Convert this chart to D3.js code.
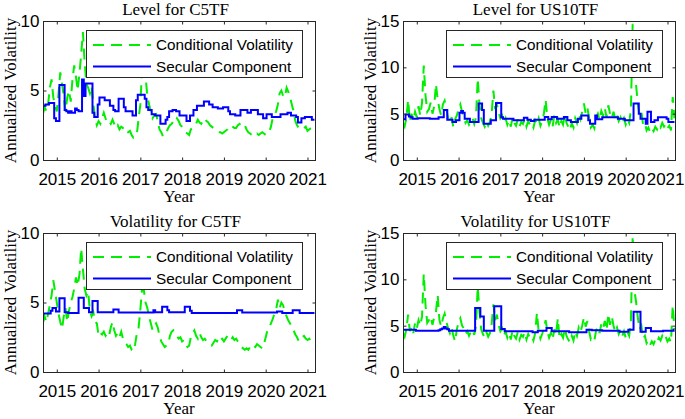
<!DOCTYPE html>
<html><head><meta charset="utf-8">
<script src="https://cdn.jsdelivr.net/npm/d3@7"></script>
<style>body{margin:0;background:#fff} svg{display:block}</style>
</head><body><svg id="c" width="685" height="419"></svg>
<script>
// ---------- data ----------
const yearTicks = [2015, 2016, 2017, 2018, 2019, 2020, 2021];
const yTicksC5 = [0, 5, 10];
const yTicksUS10 = [0, 5, 10, 15];
const startYear = 2014.667;   // first observation (Sep 2014), half-monthly grid
const stepYear = 1 / 24;

const levelC5Cond = [3.3,3.8,3.5,4.0,5.2,5.8,4.5,3.9,3.5,4.8, 6.3,5.5,4.6,3.5,4.5,5.0,4.2,5.8,6.8,6.0,
 5.0,6.2,7.6,9.2,7.0,5.5,5.2,4.8,5.3,4.0, 3.0,2.5,2.8,2.6,3.0,3.4,3.0,2.7,2.8,2.6,
 2.9,2.6,2.3,2.5,2.2,2.4,2.3,2.1,2.2,2.0, 2.1,1.8,1.6,1.7,1.9,3.0,4.0,6.6,7.0,6.0,
 4.6,4.0,3.5,3.0,3.2,3.3,2.8,2.2,2.0,1.7, 1.9,2.0,2.3,2.5,2.6,2.8,2.7,3.0,2.8,2.5,
 2.4,2.2,2.0,1.9,1.8,2.2,2.3,2.5,2.6,2.9, 2.7,2.6,2.8,3.0,2.8,2.7,2.5,2.4,2.3,2.2,
 2.1,2.0,2.0,1.9,2.0,2.1,2.2,2.4,2.5,2.4, 2.3,2.3,2.5,2.6,2.4,2.5,2.5,2.2,2.0,1.9,
 1.8,1.7,1.8,1.9,1.8,1.9,2.0,1.9,1.8,1.9, 2.0,2.4,3.0,3.2,3.5,4.0,4.8,5.0,4.6,4.5,
 5.2,4.9,4.5,4.0,3.5,2.8,2.5,2.3,2.2,2.2, 2.3,2.4,2.1,2.2,2.3,2.4,2.5];

const levelC5Sec = [3.9,3.9,4.0, 4.0,4.1,4.1,4.1, 3.0,2.8,2.8, 5.4,5.4,5.4, 3.6,3.5,
 3.4,3.5,3.4,3.4,3.7,3.6,3.5, 3.5, 5.8, 4.6, 5.5,5.5,5.5,5.5, 3.4, 3.1,3.1, 4.0,
 4.5,4.5,4.5, 4.3,4.3,4.3, 3.9,3.9, 3.6,3.5,3.5, 4.4,4.4,4.4, 3.8, 3.5,3.5,3.5,3.5,
 3.2,3.2, 4.3, 4.7,4.7,4.7,4.7, 4.4, 3.8, 3.6,3.6, 3.3,3.3,3.2,3.2,3.2, 2.6,2.6,2.6,
 2.9,3.1, 3.5,3.5,3.6,3.6,3.5,3.5, 3.2,3.2,3.2,3.2, 2.8,2.8, 3.2,3.2, 3.6,3.6,
 3.9,3.9,3.9,3.9, 4.2,4.2,4.2, 4.0,4.0, 3.8,3.8,3.8, 3.7,3.7,3.7, 3.8,3.8,3.8, 3.5,
 3.3,3.3,3.3,3.2,3.2,3.2, 3.6,3.6,3.6,3.6, 3.4,3.4, 3.6,3.6,3.6,3.6, 3.3,3.3,3.3,
 3.0,3.0, 3.3,3.3,3.3, 3.1,3.1,3.1,3.1,3.1, 3.3,3.3,3.3,3.3, 3.4,3.4, 3.2,3.2,3.2,3.1,
 2.7,2.7, 3.0,3.0, 3.1,3.1,3.1,3.1, 2.9,2.9];

const levelUS10Cond = [4.0,3.6,4.5,6.5,4.2,5.0,4.3,5.2,4.6,5.8, 4.8,6.2,10.2,7.0,5.2,5.5,6.2,5.0,5.8,8.2,
 6.5,5.5,4.8,6.0,6.4,5.5,4.5,4.0,4.6,3.5, 4.4,4.8,5.5,6.0,5.2,4.6,4.0,4.3,3.8,4.2,
 4.5,3.9,4.6,8.8,6.0,4.5,4.0,3.6,4.2,3.7, 4.1,5.0,7.5,5.5,6.0,5.2,4.5,4.8,4.0,4.5,
 3.8,4.3,3.6,4.6,4.0,3.7,4.4,3.6,4.1,3.9, 4.4,3.6,4.2,3.8,4.0,3.5,4.3,3.9,4.5,3.7,
 4.2,5.0,6.5,4.5,3.8,4.3,3.6,4.8,4.0,4.4, 3.5,4.2,3.8,4.9,4.0,3.6,3.2,4.0,3.5,4.5,
 4.0,5.0,4.4,5.2,6.1,5.0,5.6,4.5,3.5,3.8, 3.4,4.6,5.0,4.3,5.3,4.8,5.6,4.6,5.9,5.0,
 4.5,5.2,4.4,4.9,4.2,4.6,4.0,4.5,3.8,4.4, 4.0,5.5,14.7,9.0,8.0,6.0,4.8,5.2,3.8,4.0,
 3.2,3.5,3.0,3.4,3.1,3.6,3.3,3.8,3.5,4.0, 3.6,3.9,3.4,3.7,3.2,6.8,4.5];

const levelUS10Sec = [4.4,4.4, 4.9,4.9, 4.7,4.6, 4.45,4.45,4.45, 4.5,4.5,4.5,4.5,4.5,4.5,4.5,
 4.45,4.45,4.45,4.45,4.45, 4.6,4.6,4.6, 5.4,5.4, 4.35,4.35,4.35, 4.1,4.1, 4.3,4.3, 5.1,5.3,5.1,
 4.45,4.45,4.45, 4.1,4.1,4.1,4.1,4.1, 6.1,6.1, 5.4, 3.9,3.9,3.9,3.9, 4.3,4.3,4.3,
 6.15,6.15,6.15, 4.6, 4.45,4.45,4.45,4.45,4.45,4.45, 4.3,4.3,4.3,4.3,4.3,4.3, 4.55,4.55,
 4.35,4.35, 4.2,4.2, 4.35,4.35,4.35,4.35,4.35,4.35, 4.65,4.65, 4.4,4.4, 4.65,4.65,4.65,
 4.45,4.45,4.45,4.45, 4.65,4.65, 4.3,4.3, 4.1,4.1,4.1,4.1, 4.45,4.45, 4.8,4.8,4.8,4.8, 4.3,
 3.9,3.9,3.9, 4.8, 4.4,4.4,4.4, 4.6,4.6,4.6,4.6,4.6,4.6,4.6,4.6,4.6, 4.45,4.45,4.45,4.45,
 4.3,4.3,4.3,4.3,4.3, 6.1,6.1,6.1, 5.0, 4.45,4.45,4.45, 3.9, 5.2,5.2, 4.1,4.1, 4.3,4.3,
 4.6,4.6,4.6,4.6,4.6, 4.45, 4.1,4.1,4.1,4.1];

const volC5Cond = [3.5,4.0,3.6,4.2,4.8,5.5,6.6,5.8,5.0,4.2, 3.6,3.1,4.0,4.6,3.6,4.4,5.0,5.4,6.0,6.8,
 6.2,7.0,8.9,7.4,6.0,5.5,5.8,4.4,4.0,4.3, 3.6,3.5,2.6,2.8,2.7,2.9,2.6,2.8,2.6,3.2,
 3.6,3.0,2.6,2.8,2.5,2.9,2.4,2.1,2.0,1.8, 1.9,1.6,1.5,2.0,2.8,3.2,4.5,6.0,5.9,5.0,
 4.6,4.0,3.5,3.0,3.3,3.5,3.2,2.6,2.2,2.0, 1.8,1.9,2.0,2.6,2.9,3.0,2.8,2.6,2.4,2.5,
 2.2,2.3,2.0,1.8,1.9,2.5,2.8,3.0,2.6,2.4, 2.8,2.5,2.3,2.4,2.2,2.1,2.0,1.9,2.1,2.3,
 2.2,2.5,2.3,2.4,2.2,2.4,2.6,2.4,2.3,2.5, 2.3,2.4,2.2,2.0,1.8,1.7,1.6,1.7,1.6,1.8,
 1.7,1.9,1.8,2.0,1.9,1.8,1.7,2.0,2.5,3.0, 3.2,3.5,3.8,4.2,4.5,5.2,4.6,5.0,4.8,4.3,
 4.0,3.7,3.5,3.2,3.0,2.7,2.5,2.2,2.3,2.5, 2.6,2.4,2.3,2.4,2.2,2.4,2.3];

const volC5Sec = [4.2,4.2,4.2,4.2,4.2, 4.4,4.6,4.6, 4.35,4.35, 5.3,5.3,5.3, 4.3,4.3,
 4.25,4.25,4.25,4.25,4.25,4.25, 5.35,5.35,5.35, 4.6,4.6,4.6, 4.3,4.3, 5.1,5.1,5.1,
 4.3,4.3,4.3,4.3,4.3,4.3,4.3,4.3,4.3, 4.5,4.5,4.5,
 4.28,4.28,4.28,4.28,4.28,4.28,4.28,4.28,4.28,4.28,4.28,4.28,4.28,4.28,4.28,4.28,4.28,4.28,4.28,4.28,
 4.45, 4.3,4.3,4.3,4.3, 4.7,4.7,4.7, 4.45, 4.3,4.3,4.3,4.3,4.3,4.3,4.3,4.3,4.3,
 4.7,4.7,4.7, 4.4,
 4.25,4.25,4.25,4.25,4.25,4.25,4.25,4.25,4.25,4.25,4.25,4.25,4.25,4.25,4.25,4.25,4.25,4.25,4.25,4.25,4.25,4.25,4.25,4.25,4.25,4.25,
 4.45,4.45,4.45,
 4.28,4.28,4.28,4.28,4.28,4.28,4.28,4.28,4.28,4.28,4.28,4.28,4.28,4.28,4.28,4.28,4.28,4.28,4.28,4.28,
 4.35,4.35,4.35, 4.25,4.25,4.25,4.25,4.25,4.25, 4.45,4.45,4.45,4.45,
 4.25,4.25,4.25,4.25,4.25,4.25,4.25,4.25,4.25];

const volUS10Cond = [4.2,3.8,4.6,6.2,4.4,4.9,4.2,5.3,4.7,5.6, 5.0,6.0,10.6,7.2,5.3,5.6,6.0,5.1,5.9,6.5,
 8.3,5.6,4.9,5.8,6.3,5.4,4.7,4.2,4.8,3.9, 3.3,4.6,5.4,5.8,5.0,4.7,4.1,4.4,3.9,4.3,
 4.6,4.0,5.0,9.2,6.5,4.6,4.1,3.7,4.3,3.8, 4.2,5.2,7.3,5.6,6.2,5.1,4.4,4.7,3.9,4.4,
 3.7,4.2,3.5,4.5,3.9,3.6,4.3,3.5,4.0,3.8, 4.3,3.5,4.1,3.7,3.9,3.4,4.2,6.4,4.4,3.6,
 4.1,4.7,5.6,4.4,3.7,4.2,3.5,4.6,4.0,5.8, 3.6,4.1,3.7,4.7,3.9,3.5,3.2,3.9,3.4,4.4,
 3.9,4.8,4.3,5.0,5.9,4.9,5.5,4.4,3.5,3.7, 3.4,4.5,4.9,4.2,5.2,4.7,5.5,4.5,6.3,5.1,
 6.0,5.0,4.3,4.8,4.1,4.5,3.9,4.4,3.7,4.3, 3.9,5.6,14.7,8.8,7.5,5.8,4.6,5.0,3.6,3.9,
 3.1,3.4,2.9,3.3,3.0,3.5,3.2,3.7,3.4,3.9, 3.5,3.8,3.3,3.6,3.2,7.2,4.6];

const volUS10Sec = [4.55,4.55,4.55,4.55,4.55,4.55,4.55,4.55,
 4.45,4.45,4.45,4.45,4.45,4.45,4.45,4.45,4.45,4.45,4.45,4.45,4.45, 4.5,
 4.6,4.7,4.85,4.7,4.6,
 4.45,4.45,4.45,4.45,4.45,4.45,4.45,4.45,4.45,4.45,4.45,4.45,4.45,4.45,4.45,
 6.9,6.9,6.9, 6.0,6.0, 4.45,4.45,4.45,4.45,4.45,4.45, 7.1,7.1,7.1,7.1, 4.65,4.65,
 4.4,4.4,4.4,4.4,4.4,4.4,4.4,4.4,4.4,4.4,4.4,4.4,4.4,4.4,4.4,4.4,
 4.3,4.3,4.3, 4.45,4.45,4.45,4.45,4.45, 4.75,4.75,4.75,
 4.4,4.4,4.4,4.4,4.4,4.4,4.4,4.4,4.4,4.4, 4.3,4.3,4.3,4.3,4.3,4.3,4.3,4.3,4.3,4.3,
 4.55,4.55,4.55, 4.5,4.5,4.5,4.5,4.5,4.5, 4.45,4.45,4.45,4.45,4.45,4.45,4.45,4.45,4.45,4.45,
 4.35,4.35,4.35,4.35,4.35, 4.55,4.55,4.55, 6.5,6.5,6.5,6.5, 4.35,4.35,4.35, 4.75,4.75,4.75,
 4.4,4.4,4.4,4.4,4.4,4.4,4.4, 4.45,4.45,4.45,4.45,4.45,4.45, 4.55];

const legendLabels = ["Conditional Volatility", "Secular Component"];

// ---------- layout ----------
const panels = [
  {title: "Level for C5TF",      cond: levelC5Cond,   sec: levelC5Sec,   yTicks: yTicksC5,   x0: 43,  y0: 21},
  {title: "Level for US10TF",    cond: levelUS10Cond, sec: levelUS10Sec, yTicks: yTicksUS10, x0: 403, y0: 21},
  {title: "Volatility for C5TF", cond: volC5Cond,     sec: volC5Sec,     yTicks: yTicksC5,   x0: 43,  y0: 233},
  {title: "Volatility for US10TF", cond: volUS10Cond, sec: volUS10Sec,   yTicks: yTicksUS10, x0: 403, y0: 233}
];
const W = 272, H = 139;
const sansFont = "Arial, 'Liberation Sans', sans-serif";
const serifFont = "'Times New Roman', 'Liberation Serif', serif";
const axisColor = "#262626";
const green = "#00ee00", blue = "#0000ff";

const svg = d3.select("#c");
svg.append("rect").attr("width", 685).attr("height", 419).attr("fill", "#fff");

panels.forEach((p, k) => {
  const g = svg.append("g");
  const x = d3.scaleLinear().domain([2014.67, 2021.18]).range([p.x0, p.x0 + W]);
  const yMax = d3.max(p.yTicks);
  const y = d3.scaleLinear().domain([0, yMax]).range([p.y0 + H, p.y0]);
  const date = i => startYear + i * stepYear;

  const clipId = "clip" + k;
  svg.append("clipPath").attr("id", clipId).append("rect")
    .attr("x", p.x0).attr("y", p.y0).attr("width", W).attr("height", H);

  const lines = g.append("g").attr("clip-path", `url(#${clipId})`);
  const lineCond = d3.line().x((d, i) => x(date(i))).y(d => y(d));
  const lineSec = d3.line().x((d, i) => x(date(i))).y(d => y(d)).curve(d3.curveStep);

  lines.append("path").datum(p.cond).attr("d", lineCond)
    .attr("fill", "none").attr("stroke", green).attr("stroke-width", 2)
    .attr("stroke-dasharray", "11,7");
  lines.append("path").datum(p.sec).attr("d", lineSec)
    .attr("fill", "none").attr("stroke", blue).attr("stroke-width", 2);

  // axes (ticks inward)
  const bottom = g.append("g").attr("transform", `translate(0,${p.y0 + H + 0.5})`)
    .call(d3.axisBottom(x).tickValues(yearTicks).tickFormat(d3.format("d")).tickSize(-3).tickPadding(12));
  const top = g.append("g").attr("transform", `translate(0,${p.y0 + 0.5})`)
    .call(d3.axisTop(x).tickValues(yearTicks).tickFormat("").tickSize(-3));
  const left = g.append("g").attr("transform", `translate(${p.x0 + 0.5},0)`)
    .call(d3.axisLeft(y).tickValues(p.yTicks).tickSize(-3).tickPadding(4));
  const right = g.append("g").attr("transform", `translate(${p.x0 + W + 0.5},0)`)
    .call(d3.axisRight(y).tickValues(p.yTicks).tickFormat("").tickSize(-3));
  [bottom, top, left, right].forEach(a => {
    a.select(".domain").remove();
    a.selectAll("line").attr("stroke", axisColor);
    a.selectAll("text").attr("fill", "#000").style("font-family", sansFont).style("font-size", "17px");
  });
  // keep the last year label inside the page
  bottom.selectAll(".tick").each(function(d) {
    const t = d3.select(this).select("text");
    const w = t.node().getComputedTextLength();
    const cx = x(d);
    if (cx + w / 2 > 684) t.attr("x", 684 - w / 2 - cx);
  });

  // box
  g.append("rect").attr("x", p.x0 + 0.5).attr("y", p.y0 + 0.5).attr("width", W).attr("height", H)
    .attr("fill", "none").attr("stroke", axisColor).attr("stroke-width", 1);

  // legend
  const lg = g.append("g").attr("transform", `translate(${p.x0 + 43.5},${p.y0 + 9.5})`);
  lg.append("rect").attr("width", 216).attr("height", 47).attr("fill", "#fff")
    .attr("stroke", axisColor).attr("stroke-width", 1);
  const rows = [{c: green, dash: "11,7"}, {c: blue, dash: null}];
  rows.forEach((r, j) => {
    const yy = 14.5 + j * 21.5;
    const ln = lg.append("line").attr("x1", 6.5).attr("x2", 64.5).attr("y1", yy).attr("y2", yy)
      .attr("stroke", r.c).attr("stroke-width", 2);
    if (r.dash) ln.attr("stroke-dasharray", r.dash);
    lg.append("text").attr("x", 69.5).attr("y", yy).attr("dy", "0.35em")
      .style("font-family", sansFont).style("font-size", "15.3px").attr("fill", "#000")
      .text(legendLabels[j]);
  });

  // labels
  g.append("text").attr("x", p.x0 + W / 2 - 3.5).attr("y", p.y0 - 6.5)
    .attr("text-anchor", "middle").style("font-family", serifFont).style("font-size", "17px")
    .text(p.title);
  g.append("text").attr("x", p.x0 + W / 2).attr("y", p.y0 + H + 42)
    .attr("text-anchor", "middle").style("font-family", serifFont).style("font-size", "17px")
    .text("Year");
  g.append("text").attr("transform", `translate(${p.x0 - 27},${p.y0 + H / 2}) rotate(-90)`)
    .attr("text-anchor", "middle").style("font-family", serifFont).style("font-size", "17px")
    .text("Annualized Volatility");
});
</script></body></html>
